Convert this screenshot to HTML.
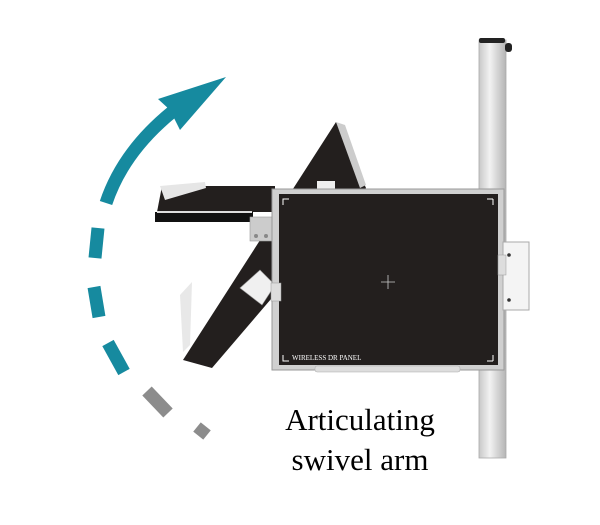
<!DOCTYPE html>
<html><head><style>body{margin:0;background:#fff}svg{display:block}</style></head><body>
<svg width="600" height="525" viewBox="0 0 600 525" xmlns="http://www.w3.org/2000/svg">
<defs>
<linearGradient id="pole" x1="0" x2="1"><stop offset="0" stop-color="#c8c8c8"/><stop offset="0.4" stop-color="#f2f2f2"/><stop offset="1" stop-color="#b4b4b4"/></linearGradient>
</defs>
<!-- pole -->
<rect x="479" y="40" width="27" height="418" fill="url(#pole)" stroke="#aaa" stroke-width="0.8"/>
<rect x="479" y="38" width="26" height="5" rx="2" fill="#222"/>
<rect x="505" y="43" width="7" height="9" rx="3" fill="#222"/>
<!-- diagonal ghost panel -->
<polygon points="336,122 366,188 212,368 183,360" fill="#231f1e"/>
<polygon points="336,122 345,125 366,185 360,188" fill="#ccc"/>
<polygon points="180,295 192,282 190,345 183,352" fill="#e8e8e8"/>
<rect x="317" y="181" width="18" height="8" fill="#eee"/>
<!-- horizontal ghost panel -->
<polygon points="162,186 275,186 275,212 157,212" fill="#231f1e"/>
<rect x="155" y="212" width="98" height="10" fill="#111"/>
<rect x="157" y="211" width="95" height="2" fill="#ddd"/>
<polygon points="160,186 205,182 206,188 165,200" fill="#e6e6e6"/>
<rect x="250" y="217" width="23" height="24" fill="#ccc" stroke="#999" stroke-width="0.6"/>
<circle cx="256" cy="236" r="2" fill="#888"/><circle cx="266" cy="236" r="2" fill="#888"/>
<polygon points="240,288 260,270 275,285 262,305" fill="#f0f0f0" stroke="#999" stroke-width="0.6"/>
<!-- main panel -->
<rect x="272" y="189" width="232" height="181" fill="#d0d0d0" stroke="#999" stroke-width="1"/>
<rect x="279" y="194" width="219" height="171" fill="#231f1e"/>
<path d="M283 205v-6h6M493 199h-6M493 199v6M283 355v6h6M493 361h-6M493 361v-6" stroke="#fff" stroke-width="1" fill="none"/>
<path d="M381 282h14M388 275v14" stroke="#ccc" stroke-width="0.8"/>
<text x="292" y="360" font-family="Liberation Serif,serif" font-size="7" fill="#fff">WIRELESS DR PANEL</text>
<rect x="271" y="283" width="10" height="18" fill="#ddd" stroke="#999" stroke-width="0.5"/>
<rect x="315" y="366" width="145" height="6" rx="2" fill="#ddd" stroke="#aaa" stroke-width="0.5"/>
<!-- bracket -->
<rect x="503" y="242" width="26" height="68" fill="#f4f4f4" stroke="#aaa" stroke-width="1"/>
<rect x="498" y="255" width="8" height="20" fill="#ddd" stroke="#999" stroke-width="0.5"/>
<circle cx="509" cy="255" r="1.8" fill="#333"/><circle cx="509" cy="300" r="1.8" fill="#333"/>
<!-- arrow -->
<g fill="none" stroke-width="13">
<path d="M106 203 Q123 152 172 112" stroke="#168a9f"/>
<g stroke="#168a9f">
<line x1="98" y1="228" x2="95" y2="258"/>
<line x1="94" y1="287" x2="99" y2="317"/>
<line x1="108" y1="343" x2="124" y2="372"/>
</g>
<g stroke="#8c8c8c">
<line x1="147" y1="391" x2="168" y2="413"/>
<line x1="197" y1="427" x2="207" y2="435" stroke-width="12"/>
</g>
</g>
<path d="M226 77 L158 99 L170 110 L180 130 Z" fill="#168a9f"/>
<text x="360" y="430" text-anchor="middle" font-family="Liberation Serif,serif" font-size="31" fill="#000">Articulating</text>
<text x="360" y="470" text-anchor="middle" font-family="Liberation Serif,serif" font-size="31" fill="#000">swivel arm</text>
</svg>
</body></html>
